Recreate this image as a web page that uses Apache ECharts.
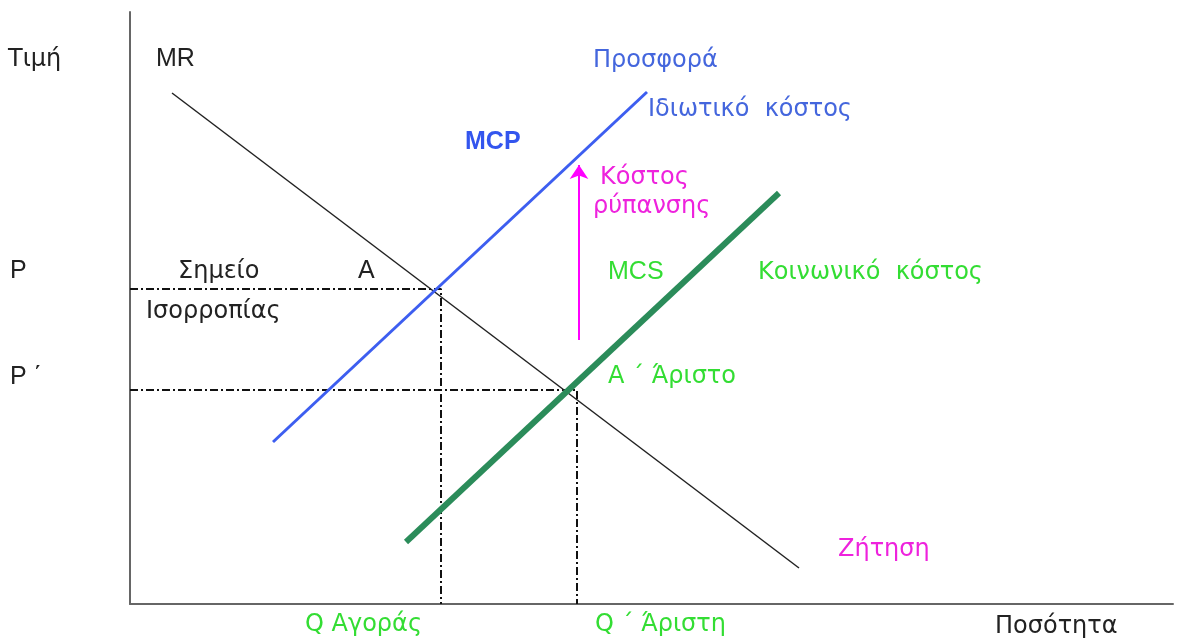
<!DOCTYPE html>
<html>
<head>
<meta charset="utf-8">
<script src="https://cdn.jsdelivr.net/npm/echarts@6/dist/echarts.min.js"></script>
<style>
html, body { margin: 0; padding: 0; background: #fff; }
#main { width: 1177px; height: 643px; }
</style>
</head>
<body>
<div id="main"></div>
<script>
// τιμές από το σχήμα (x = ποσότητα, y = τιμή)
var mrLine = [[42, 511], [669, 36]];      // ζήτηση MR
var mcpLine = [[143, 162], [517, 512]];   // ιδιωτικό κόστος MCP
var mcsLine = [[276, 62], [649, 411]];    // κοινωνικό κόστος MCS
var arrowLine = [[449, 264], [449, 439]]; // κόστος ρύπανσης
var pLevels = [315, 214];                 // P, P΄
var qLevels = [311, 447];                 // Q αγοράς, Q΄ άριστη

var chart = echarts.init(document.getElementById('main'));
var latin = '25px "Liberation Sans", Arial, sans-serif';
var greek = '24px "DejaVu Sans", Verdana, sans-serif';
var dashDot = [8, 3, 2, 3];

// βοηθητική για ετικέτες (y = κέντρο)
function txt(x, y, s, color, f) {
	return {
		type: 'text', left: x, top: y - (f ? 13 : 12),
		style: { text: s, fill: color, font: f || greek }
	};
}

chart.setOption({
	animation: false,
	grid: { left: 130, right: 4, top: 12, bottom: 39 },
	xAxis: {
		type: 'value', min: 0, max: 1043,
		axisLine: { lineStyle: { color: '#666', width: 2 } },
		axisTick: { show: false }, axisLabel: { show: false }, splitLine: { show: false }
	},
	yAxis: {
		type: 'value', min: 0, max: 592,
		axisLine: { show: true, lineStyle: { color: '#666', width: 2 } },
		axisTick: { show: false }, axisLabel: { show: false }, splitLine: { show: false }
	},
	series: [
		{ type: 'line', data: [[0, pLevels[0]], [qLevels[0], pLevels[0]], [qLevels[0], 0]], symbol: 'none',
			lineStyle: { color: '#111', width: 2, type: dashDot } },
		{ type: 'line', data: [[0, pLevels[1]], [qLevels[1], pLevels[1]], [qLevels[1], 0]], symbol: 'none',
			lineStyle: { color: '#111', width: 2, type: dashDot } },
		{ type: 'line', data: mrLine, symbol: 'none', lineStyle: { color: '#222', width: 1.5 } },
		{ type: 'line', data: mcpLine, symbol: 'none', lineStyle: { color: '#3d5ef0', width: 3 } },
		{ type: 'line', data: mcsLine, symbol: 'none', lineStyle: { color: '#2b8c5a', width: 6 } },
		{
			type: 'lines', coordinateSystem: 'cartesian2d',
			symbol: ['none', 'arrow'], symbolSize: [10, 14],
			lineStyle: { color: '#ff00ff', width: 2, opacity: 1 },
			data: [{ coords: arrowLine }]
		}
	],
	graphic: [
		txt(8, 60, 'Τιμή', '#222'),
		txt(156, 60, 'MR', '#222', latin),
		txt(593, 61, 'Προσφορά', '#4466dd'),
		txt(648, 110, 'Ιδιωτικό  κόστος', '#4466dd'),
		txt(465, 143, 'MCP', '#3355ee', 'bold ' + latin),
		txt(600, 178, 'Κόστος', '#ee22dd'),
		txt(593, 207, 'ρύπανσης', '#ee22dd'),
		txt(10, 272, 'P', '#222', latin),
		txt(178, 272, 'Σημείο', '#222'),
		txt(358, 272, 'A', '#222', latin),
		txt(146, 312, 'Ισορροπίας', '#222'),
		txt(608, 273, 'MCS', '#33dd33', latin),
		txt(758, 273, 'Κοινωνικό  κόστος', '#33dd33'),
		txt(10, 378, 'P ΄', '#222', latin),
		txt(608, 377, 'A ΄ Άριστο', '#33dd33'),
		txt(838, 550, 'Ζήτηση', '#ee22dd'),
		txt(305, 625, 'Q Αγοράς', '#33dd33'),
		txt(595, 625, 'Q ΄ Άριστη', '#33dd33'),
		txt(995, 627, 'Ποσότητα', '#222')
	]
});
</script>
</body>
</html>
